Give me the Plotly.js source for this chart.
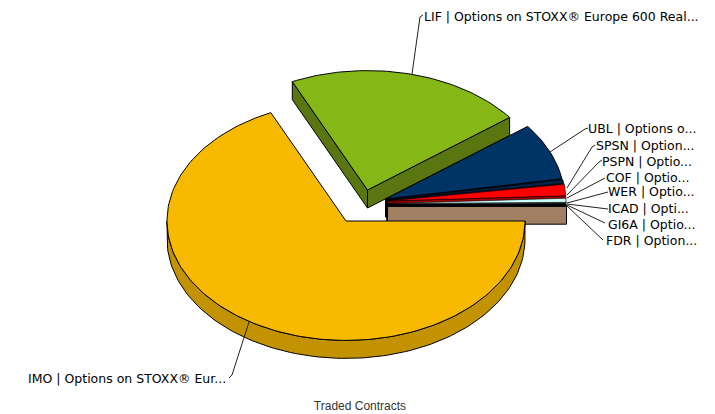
<!DOCTYPE html>
<html>
<head>
<meta charset="utf-8">
<script src="https://cdn.plot.ly/plotly-3.0.1.min.js"></script>
<style>html,body{margin:0;padding:0;background:#fff}#chart{width:715px;height:414px}</style>
</head>
<body>
<div id="chart"></div>
<script>
// ---- data (share of traded contracts, %) ----
var categories = ["IMO","LIF","UBL","SPSN","PSPN","COF","WER","ICAD","GI6A","FDR"];
var labels = [
  "IMO | Options on STOXX® Eur...",
  "LIF | Options on STOXX® Europe 600 Real...",
  "UBL | Options o...",
  "SPSN | Option...",
  "PSPN | Optio...",
  "COF | Optio...",
  "WER | Optio...",
  "ICAD | Opti...",
  "GI6A | Optio...",
  "FDR | Option..."
];
var values = [68.1, 21.5, 7.7, 0.45, 1.55, 0.55, 0.06, 0.04, 0.03, 0.02];

// ---- styling ----
var topColors  = ["#F7BA00","#85B716","#003366","#00264D","#FF0000","#CCFFFF","#000000","#4B1070","#B8D8D0","#A07F62"];
var wallColors = ["#C29200","#5A7610","#00264D","#001A36","#A00000","#88AAAA","#000000","#300A48","#80958F","#A07F62"];

// ---- pie geometry, in axis units (axes are 1:1 with pixels) ----
var R = 179, SQUASH = 0.667, DEPTH = 18;
var centerX = [346,367.5,385.5,386.5,387,387,387,387,387,387.5];
var centerY = [221,190,199,200,201,203.5,204.5,205,205.5,206.2];

// ---- leader lines and label anchors ----
var leaderX = [[249,232,229],[412,420,423],[550,585,588],[567,592,595],[567,599,602],[567,602,605],[567,605,608],[567,605,608],[567,602,605],[567,600,603]];
var leaderY = [[322,375,378],[74,17,15],[152,129,128],[188,147,145],[195,162,160],[198,179,178],[203,193,192],[204,208,209],[205,222,223],[206,238,240]];
var labelX = [226,424,588,596,602,606,608,608,608,606];
var labelY = [378.5,16.5,128.5,145.5,161.5,177.5,191.5,208.5,224.5,240.5];

function rad(d){return d*Math.PI/180;}
function arcPts(cx,cy,a0,a1,dy){
  var xs=[],ys=[],n=Math.max(2,Math.ceil(Math.abs(a1-a0)/1.5));
  for(var i=0;i<=n;i++){
    var a=rad(a0+(a1-a0)*i/n);
    xs.push(cx+R*Math.cos(a)); ys.push(cy+R*SQUASH*Math.sin(a)+dy);
  }
  return {x:xs,y:ys};
}
function poly(xs,ys,fill,w){
  return {type:"scatter",mode:"lines",x:xs.concat([xs[0]]),y:ys.concat([ys[0]]),fill:"toself",
    fillcolor:fill,line:{color:"#000",width:w},hoverinfo:"skip",showlegend:false};
}
function radialWall(cx,cy,a,fill,w){
  var ex=cx+R*Math.cos(rad(a)), ey=cy+R*SQUASH*Math.sin(rad(a));
  return poly([cx,ex,ex,cx],[cy,ey,ey+DEPTH,cy+DEPTH],fill,w);
}

var total = values.reduce(function(s,v){return s+v;},0);
var slices=[], acc=0;
values.forEach(function(v,i){
  slices.push({i:i,a0:acc/total*360,a1:(acc+v)/total*360}); acc+=v;
});

function sliceTraces(s){
  var cx=centerX[s.i], cy=centerY[s.i], t=[];
  var w = (s.i>=3 && s.i<=8) ? 0.6 : 1;
  if(Math.cos(rad(s.a0))<0) t.push(radialWall(cx,cy,s.a0,wallColors[s.i],w));
  if(Math.cos(rad(s.a1))>0) t.push(radialWall(cx,cy,s.a1,wallColors[s.i],w));
  var lo=Math.max(s.a0,0), hi=Math.min(s.a1,180);
  if(hi>lo){
    var top=arcPts(cx,cy,lo,hi,0), bot=arcPts(cx,cy,hi,lo,DEPTH);
    t.push(poly(top.x.concat(bot.x),top.y.concat(bot.y),wallColors[s.i],w));
  }
  var arc=arcPts(cx,cy,s.a0,s.a1,0);
  t.push(poly([cx].concat(arc.x),[cy].concat(arc.y),topColors[s.i],w));
  return t;
}

// back-to-front painting order: small group, then LIF, then IMO
var traces=[];
slices.slice(2).forEach(function(s){traces=traces.concat(sliceTraces(s));});
traces=traces.concat(sliceTraces(slices[1]));
traces=traces.concat(sliceTraces(slices[0]));

categories.forEach(function(c,i){
  traces.push({type:"scatter",mode:"lines",name:c,x:leaderX[i],y:leaderY[i],
    line:{color:"#222",width:1},hoverinfo:"skip",showlegend:false});
});

var annotations = labels.map(function(t,i){
  return {x:labelX[i],y:labelY[i],xref:"x",yref:"y",text:t,showarrow:false,
    xanchor:i===0?"right":"left",yanchor:"middle",xshift:i===0?2:-2,
    font:{family:"DejaVu Sans",size:12.5,color:"#000"}};
});

var layout={
  width:715,height:414,
  margin:{l:5,r:0,t:0,b:20},
  paper_bgcolor:"#fff",plot_bgcolor:"#fff",
  showlegend:false,
  xaxis:{range:[5,715],showgrid:false,zeroline:false,showline:false,showticklabels:false,ticks:"",
    title:{text:"Traded Contracts",standoff:7,font:{family:"Liberation Sans",size:12,color:"#333"}}},
  yaxis:{range:[394,0],showgrid:false,zeroline:false,showline:false,showticklabels:false,ticks:""},
  annotations:annotations
};
Plotly.newPlot("chart",traces,layout,{displayModeBar:false,staticPlot:true});
</script>
</body>
</html>
